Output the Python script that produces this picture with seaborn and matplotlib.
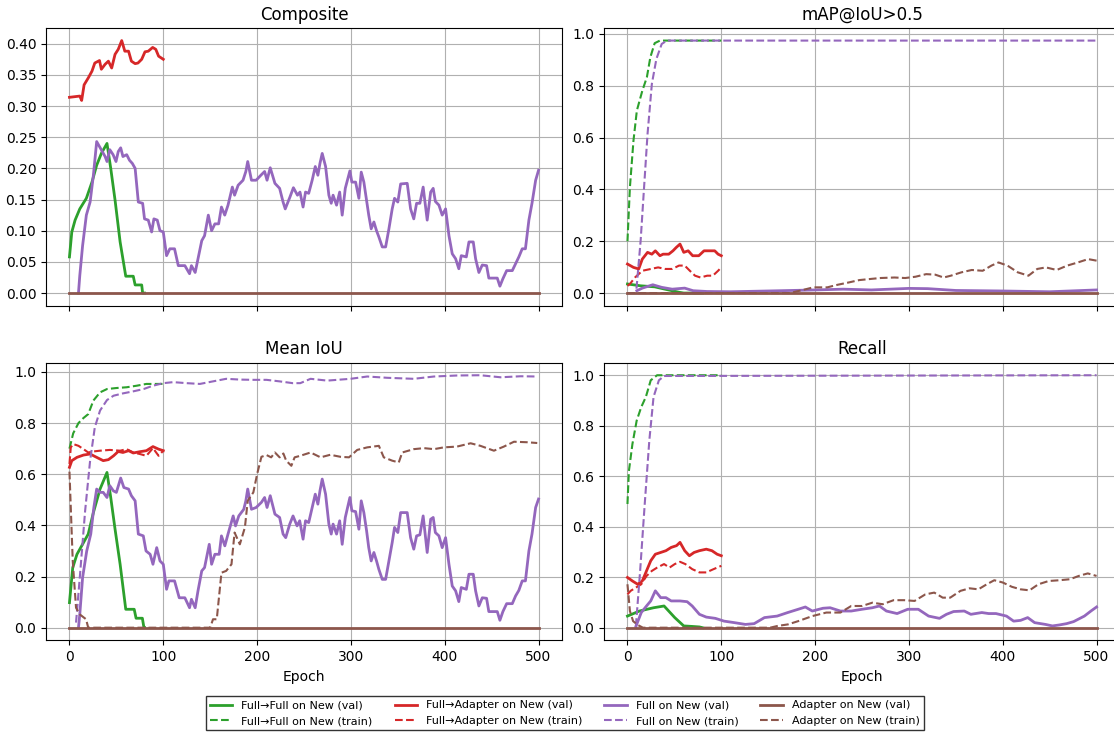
import matplotlib
matplotlib.use("Agg")
import matplotlib.pyplot as plt
import seaborn as sns

# ── Colours / labels ──────────────────────────────────────────────────────────
RUNS = ["Full→Full on New", "Full→Adapter on New", "Full on New", "Adapter on New"]
COLORS = {"Full→Full on New": "#2ca02c", "Full→Adapter on New": "#d62728",
          "Full on New": "#9467bd", "Adapter on New": "#8c564b"}

# ── Composite (val only) ──────────────────────────────────────────────────────
comp_ff_val_x = [0, 2.5, 6, 11, 18, 24, 29, 34, 40, 44, 48.6, 54, 60, 68, 70, 77, 78, 80]
comp_ff_val_y = [0.058, 0.098, 0.117, 0.135, 0.152, 0.178, 0.205, 0.224, 0.240, 0.200,
                 0.149, 0.082, 0.027, 0.027, 0.013, 0.013, 0.0, 0.0]
comp_fa_val_x = [0, 11, 13, 15.6, 20, 24, 27, 32, 34, 38, 41.5, 45, 48.6, 52, 55.7, 59,
                 63, 66, 70, 73, 77, 80.5, 84, 88.7, 92, 95, 100]
comp_fa_val_y = [0.314, 0.316, 0.309, 0.334, 0.345, 0.356, 0.369, 0.373, 0.359, 0.367,
                 0.372, 0.361, 0.383, 0.391, 0.405, 0.388, 0.388, 0.372, 0.368, 0.369,
                 0.375, 0.387, 0.388, 0.394, 0.391, 0.380, 0.375]
comp_f_val_x = [9.6, 11, 14, 18, 22, 25.5, 29, 32, 34, 38, 40, 43, 46.5, 49.6, 52, 54.6,
                57, 61, 64, 67, 70, 73.4, 78, 80, 84, 87.6, 90, 93.6, 96.5, 100, 103.5,
                107, 112, 116, 123, 128, 130, 134, 137, 141, 144, 148, 151.5, 155, 159,
                162, 165.5, 169, 173.6, 176, 179.8, 185, 188, 190, 194, 199, 204, 208,
                210.6, 214, 219, 224, 227.7, 230, 235, 238.7, 243, 245.7, 249, 251.6,
                255, 258.7, 262, 264.8, 267, 269.4, 273, 276.5, 279, 281, 284.7, 288,
                290.7, 294, 298.9, 301, 305, 308.5, 311, 313.8, 316.7, 319, 321.6, 324.5,
                327.3, 329.8, 333.4, 337, 340.5, 344, 346.5, 350, 353, 360, 363.6, 367,
                370, 373.5, 377, 381.3, 385, 387.7, 390, 393.8, 397.3, 400.9, 404.5, 408,
                411.6, 415, 417.6, 423, 425.8, 430.4, 432.9, 436.4, 440, 444.6, 447, 456,
                458.8, 462, 466, 472, 475.5, 479, 482.6, 486, 489.7, 493, 496.9, 500]
comp_f_val_y = [0.0, 0.028, 0.076, 0.125, 0.146, 0.189, 0.243, 0.235, 0.230, 0.219, 0.211,
                0.230, 0.222, 0.211, 0.227, 0.233, 0.219, 0.222, 0.213, 0.208, 0.200,
                0.146, 0.144, 0.119, 0.117, 0.098, 0.119, 0.117, 0.100, 0.098, 0.060,
                0.071, 0.071, 0.044, 0.044, 0.031, 0.044, 0.033, 0.055, 0.084, 0.092,
                0.125, 0.100, 0.111, 0.111, 0.138, 0.125, 0.141, 0.170, 0.157, 0.173,
                0.181, 0.195, 0.211, 0.181, 0.181, 0.189, 0.195, 0.181, 0.201, 0.176,
                0.168, 0.146, 0.135, 0.154, 0.169, 0.157, 0.162, 0.138, 0.162, 0.160,
                0.181, 0.203, 0.189, 0.208, 0.224, 0.203, 0.157, 0.144, 0.157, 0.141,
                0.162, 0.125, 0.168, 0.196, 0.178, 0.178, 0.152, 0.194, 0.178, 0.149,
                0.125, 0.103, 0.114, 0.100, 0.090, 0.074, 0.074, 0.103, 0.135, 0.152,
                0.146, 0.175, 0.176, 0.135, 0.119, 0.144, 0.144, 0.170, 0.117, 0.162,
                0.168, 0.147, 0.141, 0.125, 0.135, 0.092, 0.063, 0.055, 0.039, 0.060,
                0.058, 0.082, 0.082, 0.055, 0.033, 0.045, 0.044, 0.024, 0.024, 0.011,
                0.023, 0.036, 0.036, 0.047, 0.058, 0.071, 0.071, 0.117, 0.144, 0.181, 0.197]
adapter_val_x = [0, 500]
adapter_val_y = [0.0, 0.0]

# ── mAP@IoU>0.5 ───────────────────────────────────────────────────────────────
map_ff_val_x = [0, 14, 29, 40, 55, 60, 80]
map_ff_val_y = [0.035, 0.028, 0.024, 0.015, 0.003, 0.0, 0.0]
map_ff_tr_x = [0, 2.6, 6.4, 10, 15.8, 20.7, 24.4, 29, 34.6, 100]
map_ff_tr_y = [0.20, 0.408, 0.588, 0.704, 0.78, 0.833, 0.91, 0.964, 0.974, 0.974]
map_fa_val_x = [0, 6.4, 12, 15.8, 21.4, 26, 29.7, 34.6, 38, 44, 48.5, 52, 56, 60, 64.7,
                69.5, 76, 81.6, 87, 93, 96.6, 100]
map_fa_val_y = [0.112, 0.099, 0.093, 0.131, 0.157, 0.150, 0.163, 0.144, 0.150, 0.150,
                0.163, 0.176, 0.189, 0.157, 0.163, 0.144, 0.144, 0.163, 0.163, 0.163,
                0.150, 0.144]
map_fa_tr_x = [0, 2.6, 8, 15.8, 25, 32.7, 40, 47.7, 55, 61, 66.5, 72, 77.8, 85, 91, 96.6, 100]
map_fa_tr_y = [0.028, 0.035, 0.060, 0.086, 0.093, 0.099, 0.093, 0.093, 0.106, 0.106,
               0.086, 0.067, 0.060, 0.067, 0.067, 0.086, 0.099]
map_f_val_x = [10, 15.8, 27, 36.5, 47.7, 61, 70, 85, 110, 150, 200, 230, 260, 300, 320,
               350, 400, 450, 500]
map_f_val_y = [0.009, 0.019, 0.032, 0.022, 0.015, 0.019, 0.009, 0.006, 0.005, 0.008,
               0.012, 0.015, 0.012, 0.018, 0.017, 0.010, 0.008, 0.005, 0.012]
map_f_tr_x = [9.6, 14, 17.7, 21.4, 26, 30.8, 36.5, 42, 500]
map_f_tr_y = [0.017, 0.20, 0.408, 0.614, 0.807, 0.903, 0.961, 0.974, 0.974]
map_a_tr_x = [0, 173, 187, 198, 213, 224, 236, 247, 258, 269.5, 284.6, 296, 307, 318.4,
              328, 337, 344.7, 356, 367, 378.6, 388, 395.5, 405, 416, 427.4, 436.8, 446,
              457.5, 468.8, 480, 491, 500]
map_a_tr_y = [0.0, 0.0, 0.012, 0.022, 0.022, 0.032, 0.041, 0.050, 0.054, 0.058, 0.060,
              0.058, 0.063, 0.073, 0.071, 0.060, 0.067, 0.080, 0.089, 0.086, 0.106,
              0.118, 0.106, 0.080, 0.067, 0.093, 0.099, 0.089, 0.106, 0.118, 0.131, 0.125]

# ── Mean IoU ──────────────────────────────────────────────────────────────────
iou_ff_val_x = [0, 3.5, 8, 15, 20, 25.5, 32.6, 40, 44, 48.6, 54, 60, 69, 71, 77.7, 79.4, 80]
iou_ff_val_y = [0.098, 0.235, 0.287, 0.333, 0.366, 0.450, 0.542, 0.607, 0.509, 0.385,
                0.248, 0.072, 0.072, 0.037, 0.037, 0.0, 0.0]
iou_ff_tr_x = [0, 4, 9.6, 15, 20, 25.5, 32.6, 40, 50, 61, 71.6, 82, 93, 100]
iou_ff_tr_y = [0.70, 0.76, 0.80, 0.82, 0.835, 0.888, 0.92, 0.933, 0.937, 0.94, 0.946,
               0.953, 0.953, 0.953]
iou_fa_val_x = [0, 2.5, 8, 15, 22, 29, 36, 41.5, 47, 52, 57, 63, 68, 75, 82, 89, 95, 100]
iou_fa_val_y = [0.627, 0.653, 0.666, 0.675, 0.679, 0.666, 0.653, 0.657, 0.672, 0.689,
                0.685, 0.692, 0.683, 0.688, 0.692, 0.708, 0.698, 0.692]
iou_fa_tr_x = [0, 1.4, 4, 9.6, 15, 20, 25.5, 32.6, 43, 54, 61, 68, 75, 82, 89, 95, 100]
iou_fa_tr_y = [0.64, 0.705, 0.718, 0.711, 0.698, 0.685, 0.689, 0.692, 0.695, 0.692,
               0.698, 0.685, 0.679, 0.672, 0.702, 0.672, 0.692]
iou_f_val_x = [9.6, 11, 14, 18.4, 22.7, 26, 29, 32.6, 36, 40, 43, 46.8, 50, 54.6, 58, 63,
               66, 70, 73.4, 78.7, 81.6, 86, 89, 93, 96.5, 100, 103.5, 106, 112, 117, 123,
               128, 130, 134, 137, 141, 144, 149, 151.5, 155, 159.6, 162, 165.6, 169,
               174.5, 177, 180.5, 185.8, 188, 190, 194, 199, 204.6, 208, 210.6, 214, 219,
               224, 227.7, 230.5, 234.8, 238.3, 242.6, 245.4, 249, 251.6, 255, 258.7, 262,
               264.8, 267, 269.4, 273, 276.5, 279, 281, 284.7, 288, 290.7, 294, 298.9,
               301, 305, 308.5, 311, 313.8, 316.7, 319, 321.6, 324.5, 327.3, 329.8,
               333.4, 337, 340.5, 344, 346.5, 350, 353, 360, 363.6, 367, 370, 373.5, 377,
               381.3, 385, 387.7, 390, 393.8, 397.3, 400.9, 404.5, 408, 411.6, 415, 417.6,
               423, 425.8, 430.4, 432.9, 436.4, 440, 444.6, 447, 456, 458.8, 462, 466,
               472, 475.5, 479, 482.6, 486, 489.7, 493, 496.9, 500]
iou_f_val_y = [0.0, 0.052, 0.196, 0.30, 0.366, 0.47, 0.542, 0.529, 0.529, 0.509, 0.555,
               0.535, 0.529, 0.585, 0.548, 0.542, 0.516, 0.496, 0.366, 0.359, 0.30, 0.287,
               0.248, 0.313, 0.261, 0.248, 0.150, 0.183, 0.183, 0.117, 0.117, 0.078, 0.111,
               0.078, 0.144, 0.222, 0.235, 0.326, 0.248, 0.287, 0.287, 0.359, 0.32, 0.366,
               0.437, 0.398, 0.437, 0.463, 0.496, 0.542, 0.463, 0.47, 0.49, 0.509, 0.47,
               0.516, 0.444, 0.431, 0.366, 0.352, 0.405, 0.437, 0.398, 0.418, 0.346,
               0.418, 0.411, 0.47, 0.522, 0.483, 0.535, 0.581, 0.522, 0.405, 0.366, 0.405,
               0.366, 0.418, 0.326, 0.431, 0.509, 0.457, 0.454, 0.385, 0.496, 0.45, 0.379,
               0.313, 0.261, 0.294, 0.261, 0.228, 0.189, 0.189, 0.261, 0.333, 0.392,
               0.372, 0.45, 0.45, 0.352, 0.307, 0.359, 0.363, 0.437, 0.294, 0.424, 0.431,
               0.372, 0.359, 0.313, 0.352, 0.248, 0.163, 0.144, 0.102, 0.157, 0.150,
               0.209, 0.209, 0.144, 0.085, 0.117, 0.115, 0.063, 0.063, 0.029, 0.063,
               0.094, 0.094, 0.124, 0.146, 0.183, 0.183, 0.30, 0.366, 0.47, 0.503]
iou_f_tr_x = [7, 11, 16.7, 22, 27, 32.6, 40, 47, 57, 68, 79, 89, 100, 110.6, 125, 139,
              153, 167, 181.6, 196, 210, 224, 238, 246, 257, 274.7, 299.6, 317.4, 338.7,
              367, 388.5, 413.3, 438, 459.5, 481, 498.6]
iou_f_tr_y = [0.02, 0.196, 0.457, 0.653, 0.783, 0.849, 0.89, 0.907, 0.916, 0.924, 0.933,
              0.946, 0.956, 0.96, 0.956, 0.953, 0.963, 0.973, 0.97, 0.969, 0.969, 0.963,
              0.956, 0.956, 0.973, 0.966, 0.973, 0.982, 0.977, 0.973, 0.982, 0.986,
              0.987, 0.979, 0.983, 0.982]
iou_a_tr_x = [0, 3.5, 7, 11, 17.7, 20, 150, 153, 157, 162, 167, 172.7, 176, 181.6, 187,
              190, 196, 200, 204.6, 210, 215, 219, 224, 228, 231, 236.5, 240, 246, 257,
              267.6, 278, 289, 298, 306.7, 317.4, 329.8, 335, 344, 351, 354.7, 367, 377.8,
              388.5, 399, 413, 427.6, 438, 452.4, 463, 473.8, 488, 498.6]
iou_a_tr_y = [0.61, 0.26, 0.078, 0.052, 0.033, 0.0, 0.0, 0.033, 0.033, 0.215, 0.222,
              0.248, 0.372, 0.326, 0.392, 0.496, 0.529, 0.60, 0.668, 0.675, 0.666, 0.685,
              0.666, 0.681, 0.653, 0.633, 0.666, 0.672, 0.685, 0.666, 0.676, 0.668, 0.666,
              0.695, 0.705, 0.711, 0.666, 0.653, 0.646, 0.685, 0.698, 0.702, 0.698, 0.705,
              0.708, 0.721, 0.711, 0.692, 0.708, 0.727, 0.725, 0.722]

# ── Recall ────────────────────────────────────────────────────────────────────
rec_ff_val_x = [0, 12.8, 27.8, 39, 50.4, 60, 69, 76.7, 80]
rec_ff_val_y = [0.046, 0.066, 0.079, 0.086, 0.040, 0.007, 0.005, 0.003, 0.0]
rec_ff_tr_x = [0, 1.5, 5.3, 9.8, 14.7, 19.6, 24.8, 31.6, 100]
rec_ff_tr_y = [0.49, 0.62, 0.728, 0.82, 0.874, 0.914, 0.98, 1.0, 1.0]
rec_fa_val_x = [0, 5.3, 10.9, 15.8, 20.3, 24.8, 29.7, 35.4, 41, 46.6, 52.3, 56, 61, 66,
                71, 76.7, 84, 90, 95.6, 100]
rec_fa_val_y = [0.199, 0.185, 0.172, 0.185, 0.225, 0.265, 0.291, 0.298, 0.305, 0.318,
                0.325, 0.338, 0.305, 0.285, 0.298, 0.305, 0.311, 0.305, 0.291, 0.285]
rec_fa_tr_x = [0, 3.4, 9, 14.7, 20.3, 26, 31.6, 39, 44.8, 50.4, 56, 61.7, 69, 76.7, 84,
               91.8, 100]
rec_fa_tr_y = [0.132, 0.146, 0.159, 0.172, 0.205, 0.225, 0.238, 0.252, 0.238, 0.252,
               0.261, 0.252, 0.232, 0.219, 0.219, 0.232, 0.245]
rec_f_val_x = [9, 14.7, 20.3, 24.8, 29.7, 35.4, 41, 46.6, 56, 63.6, 69, 76.7, 84, 93.7,
               103, 114, 125.7, 135, 146, 159.5, 170.8, 182, 189.6, 197, 208.4, 216, 227,
               238.5, 250, 261, 268.6, 276, 287.4, 298.7, 310, 321, 332.6, 340, 347.6,
               359, 366, 377.7, 385, 392.8, 404, 411.6, 419, 426.6, 434, 445.5, 453, 460.5,
               468, 475.5, 487, 494, 500]
rec_f_val_y = [0.005, 0.06, 0.086, 0.106, 0.146, 0.119, 0.119, 0.106, 0.106, 0.103,
               0.086, 0.053, 0.042, 0.037, 0.026, 0.02, 0.013, 0.016, 0.04, 0.046, 0.06,
               0.073, 0.082, 0.066, 0.077, 0.079, 0.066, 0.066, 0.073, 0.079, 0.086,
               0.066, 0.056, 0.073, 0.073, 0.046, 0.037, 0.053, 0.064, 0.066, 0.053, 0.06,
               0.056, 0.056, 0.046, 0.026, 0.029, 0.04, 0.02, 0.013, 0.007, 0.011, 0.016,
               0.024, 0.046, 0.066, 0.082]
rec_f_tr_x = [9, 13.5, 18.4, 23.3, 27.8, 33.5, 39, 500]
rec_f_tr_y = [0.007, 0.225, 0.49, 0.742, 0.914, 0.98, 0.997, 1.0]
rec_a_tr_x = [0, 2.6, 6, 10.9, 16.5, 152, 160, 171, 182, 197, 212, 227, 238.5, 250, 261,
              272, 283.7, 295, 306, 317.5, 327, 336, 344, 355, 364.6, 374, 383, 391, 400,
              409.7, 419, 428.5, 438, 449, 460.5, 471.8, 481, 490.6, 500]
rec_a_tr_y = [0.172, 0.066, 0.026, 0.011, 0.0, 0.0, 0.007, 0.013, 0.026, 0.046, 0.06,
              0.06, 0.086, 0.086, 0.099, 0.093, 0.109, 0.109, 0.106, 0.132, 0.139, 0.119,
              0.119, 0.146, 0.156, 0.152, 0.172, 0.188, 0.179, 0.162, 0.152, 0.148,
              0.172, 0.185, 0.188, 0.192, 0.205, 0.215, 0.205]

PANELS = [
    ("Composite", {
        ("Full→Full on New", "val"): (comp_ff_val_x, comp_ff_val_y),
        ("Full→Adapter on New", "val"): (comp_fa_val_x, comp_fa_val_y),
        ("Full on New", "val"): (comp_f_val_x, comp_f_val_y),
        ("Adapter on New", "val"): (adapter_val_x, adapter_val_y),
    }),
    ("mAP@IoU>0.5", {
        ("Full→Full on New", "val"): (map_ff_val_x, map_ff_val_y),
        ("Full→Full on New", "train"): (map_ff_tr_x, map_ff_tr_y),
        ("Full→Adapter on New", "val"): (map_fa_val_x, map_fa_val_y),
        ("Full→Adapter on New", "train"): (map_fa_tr_x, map_fa_tr_y),
        ("Full on New", "val"): (map_f_val_x, map_f_val_y),
        ("Full on New", "train"): (map_f_tr_x, map_f_tr_y),
        ("Adapter on New", "val"): (adapter_val_x, adapter_val_y),
        ("Adapter on New", "train"): (map_a_tr_x, map_a_tr_y),
    }),
    ("Mean IoU", {
        ("Full→Full on New", "val"): (iou_ff_val_x, iou_ff_val_y),
        ("Full→Full on New", "train"): (iou_ff_tr_x, iou_ff_tr_y),
        ("Full→Adapter on New", "val"): (iou_fa_val_x, iou_fa_val_y),
        ("Full→Adapter on New", "train"): (iou_fa_tr_x, iou_fa_tr_y),
        ("Full on New", "val"): (iou_f_val_x, iou_f_val_y),
        ("Full on New", "train"): (iou_f_tr_x, iou_f_tr_y),
        ("Adapter on New", "val"): (adapter_val_x, adapter_val_y),
        ("Adapter on New", "train"): (iou_a_tr_x, iou_a_tr_y),
    }),
    ("Recall", {
        ("Full→Full on New", "val"): (rec_ff_val_x, rec_ff_val_y),
        ("Full→Full on New", "train"): (rec_ff_tr_x, rec_ff_tr_y),
        ("Full→Adapter on New", "val"): (rec_fa_val_x, rec_fa_val_y),
        ("Full→Adapter on New", "train"): (rec_fa_tr_x, rec_fa_tr_y),
        ("Full on New", "val"): (rec_f_val_x, rec_f_val_y),
        ("Full on New", "train"): (rec_f_tr_x, rec_f_tr_y),
        ("Adapter on New", "val"): (adapter_val_x, adapter_val_y),
        ("Adapter on New", "train"): (rec_a_tr_x, rec_a_tr_y),
    }),
]

fig, axes = plt.subplots(2, 2, figsize=(11.14, 7.36), dpi=100, sharex=True)
# right panel runs slightly past the image edge, as in the original export
fig.subplots_adjust(left=0.0413, right=1.0054, top=0.962, bottom=0.130,
                    hspace=0.205, wspace=0.0814)

handles, labels = None, None
for ax, (title, series) in zip(axes.flat, PANELS):
    for run in RUNS:
        for split in ("val", "train"):
            if (run, split) not in series:
                continue
            xs, ys = series[(run, split)]
            sns.lineplot(x=xs, y=ys, ax=ax, color=COLORS[run],
                         linestyle="-" if split == "val" else "--",
                         linewidth=2.0 if split == "val" else 1.5,
                         label=f"{run} ({split})", legend=False)
    ax.set_title(title, fontsize=12)
    ax.set_xlabel("Epoch")
    ax.set_ylabel("")
    ax.grid(True)
    if title == "Mean IoU":
        handles, labels = ax.get_legend_handles_labels()

axes[1, 0].set_xticks([0, 100, 200, 300, 400, 500])

fig.legend(handles, labels, loc="lower center", ncol=4, fontsize=8,
           bbox_to_anchor=(0.507, 0.0), fancybox=False, edgecolor="0.2",
           framealpha=1)
fig.savefig("out.png", dpi=100)
